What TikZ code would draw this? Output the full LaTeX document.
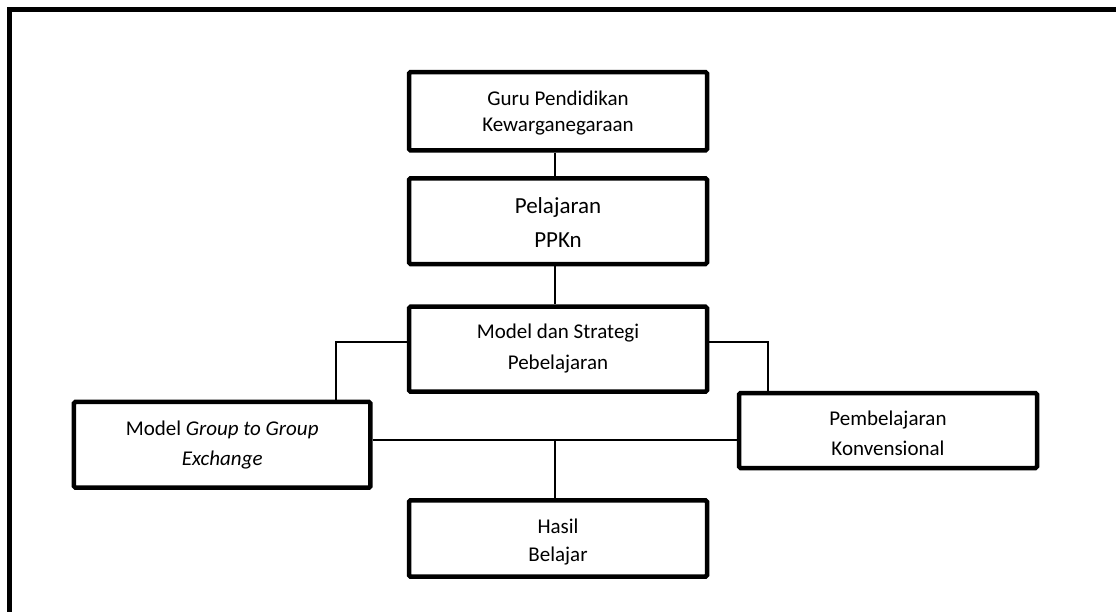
\documentclass[tikz,border=0pt]{standalone}
\usepackage{fontspec}
\setmainfont{Carlito}
% first-line strut made taller by #1 (moves text down by #1/2)
\newcommand{\TopStrut}[1]{\rule[-.3\baselineskip]{0pt}{\dimexpr\baselineskip+#1\relax}}
% last-line strut made deeper by #1 (moves text up by #1/2)
\newcommand{\BotStrut}[1]{\rule[\dimexpr-.3\baselineskip-#1\relax]{0pt}{\dimexpr\baselineskip+#1\relax}}
\begin{document}
\begin{tikzpicture}[x=1pt,y=-1pt,
  box/.style={draw, line width=4.5pt, rounded corners=1.5pt, inner sep=0pt,
    align=center, minimum width=298pt},
  conn/.style={line width=2pt},
  frame/.style={line width=5pt}]
\useasboundingbox (0,0) rectangle (1116,612);
\clip (0,0) rectangle (1116,612);
\draw[frame] (9.2,9.7) rectangle (1140,640);
% boxes
\node[box, minimum height=78.3pt, font=\fontsize{21}{26}\selectfont] (b1) at (558,111.2)
  {\TopStrut{4.6pt}Guru Pendidikan\\\strut Kewarganegaraan};
\node[box, minimum height=85.7pt, font=\fontsize{23}{34}\selectfont] (b2) at (558,221.2)
  {\TopStrut{4.6pt}Pelajaran\\\strut PPKn};
\node[box, minimum height=85pt, font=\fontsize{21}{31}\selectfont] (b3) at (558,349.2)
  {\strut Model dan Strategi\\\BotStrut{3.4pt}Pebelajaran};
\node[box, minimum width=296.5pt, minimum height=85.7pt, font=\fontsize{21}{30}\selectfont] (b4) at (222.2,444.8)
  {\strut Model \textit{Group to Group}\\\BotStrut{1.6pt}\textit{Exchange}};
\node[box, minimum height=75pt, font=\fontsize{21}{30}\selectfont] (b5) at (888,430.5)
  {\TopStrut{7pt}Pembelajaran\\\strut Konvensional};
\node[box, minimum height=76.3pt, font=\fontsize{21}{28.4}\selectfont] (b6) at (558,538.5)
  {\TopStrut{6.6pt}Hasil\\\strut Belajar};
% junctions
\coordinate (jl) at (336,342.3);
\coordinate (jr) at (768.3,342.3);
\coordinate (jm) at (555.3,440);
% connectors
\draw[conn] (b1.south -| jm) -- (b2.north -| jm);
\draw[conn] (b2.south -| jm) -- (b3.north -| jm);
\draw[conn] (b3.west |- jl) -- (jl) -- (jl |- b4.north);
\draw[conn] (b3.east |- jr) -- (jr) -- (jr |- b5.north);
\draw[conn] (b4.east |- jm) -- (b5.west |- jm);
\draw[conn] (jm) -- (jm |- b6.north);
\end{tikzpicture}
\end{document}
